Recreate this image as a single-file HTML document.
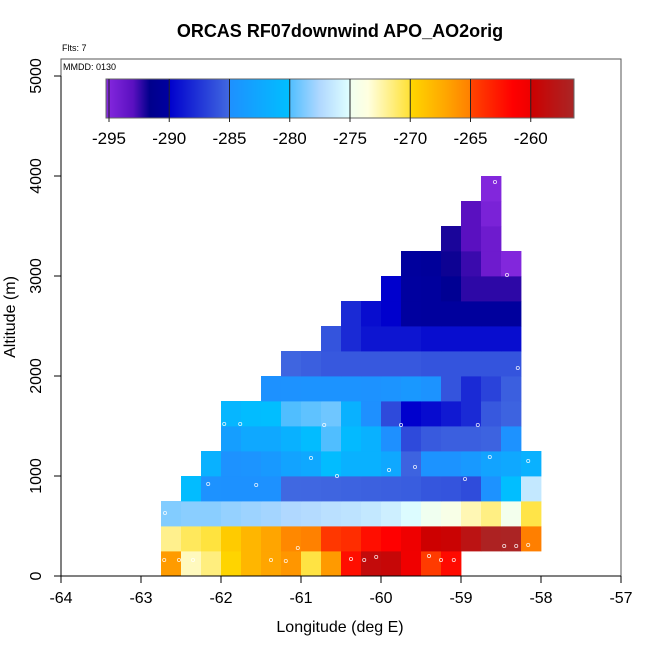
<!DOCTYPE html>
<html><head><meta charset="utf-8"><style>
body{margin:0;background:#fff;}
svg{display:block;font-family:"Liberation Sans",sans-serif;}
</style></head><body>
<svg id="chart" width="650" height="650" viewBox="0 0 650 650">
<text x="340" y="37" text-anchor="middle" font-size="18" font-weight="bold">ORCAS RF07downwind APO_AO2orig</text>
<text x="62" y="51" font-size="9">Flts: 7</text>
<g id="cells"></g>
<g id="dots"></g>
<rect x="61" y="59" width="560" height="517" fill="none" stroke="#555" stroke-width="1"/>
<text x="63" y="70" font-size="9">MMDD: 0130</text>
<g id="cbar"></g>
<g id="axes"></g>
<text x="340" y="632" text-anchor="middle" font-size="16">Longitude (deg E)</text>
<text transform="translate(15,317) rotate(-90)" text-anchor="middle" font-size="16">Altitude (m)</text>
</svg>
<script>
const rowStart = [0,0,0,1,2,3,3,5,6,8,9,11,12,14,15,16];
const row0 = [-266.5,-272.8,-271.5,-269.8,-268,-267,-266.2,-270.3,-266.4,-262.2,-259,-259.3,-260.2,-264.5,-262];
const row1 = [-271.8,-270.8,-270.2,-269.3,-268,-267,-265.5,-265.1,-264.3,-263.8,-262.2,-261.5,-260.1,-260,-259.7,-258.2,-256.8,-256.6,-265.02];
const row2 = [-278.7,-278.5,-278.5,-278.2,-278,-277.8,-277.5,-277.3,-277,-276.8,-276.5,-276,-275.2,-275,-274.2,-272.6,-271.6,-274.7,-270.4];
const row3 = [-280.3,-284.8,-284.9,-284.9,-284.9,-285.05,-285.1,-285.2,-285.3,-285.4,-285.5,-285.6,-285.9,-286,-286.4,-284.8,-280.1,-276.5];
const row4 = [-281.5,-284.8,-284.6,-284,-283,-282.5,-280.3,-281.5,-281.5,-282.5,-285.3,-284.7,-284.7,-284,-283,-282.5,-281.5];
const row5 = [-283.5,-282.5,-282.5,-281.5,-280.3,-280,-280.5,-281.5,-285,-286.5,-285.7,-285.5,-285.5,-285.3,-284.8];
const row6 = [-281,-280.3,-280.1,-280,-279.6,-279.2,-281.5,-285,-286.5,-290,-289.5,-288.8,-288,-285.8,-285.3];
const row7 = [-284.9,-284.8,-284.7,-284.7,-284.7,-284.8,-284.6,-284.2,-284.7,-286,-288,-286.8,-285.5];
const row8 = [-285.2,-285.5,-285.8,-285.8,-285.8,-285.8,-285.8,-286,-286,-286,-286,-286];
const row9 = [-286,-288,-289,-289,-289,-289.4,-289.4,-289.4,-289.4,-289.4];
const row10 = [-288,-289.4,-290,-290.05,-290.2,-290.2,-290.2,-290.2,-290.2];
const row11 = [-290,-290.05,-290.2,-291,-292.3,-292.3,-292.3];
const row12 = [-290.2,-290.5,-291.8,-292.5,-294,-295];
const row13 = [-292,-293,-294];
const row14 = [-293,-294.6];
const row15 = [-295];
const rowValues = [row0,row1,row2,row3,row4,row5,row6,row7,row8,row9,row10,row11,row12,row13,row14,row15];
const ptLon = [-60.875,-60.55,-59.9,-59.575,-58.64,-58.16,-62.16,-61.56,-58.95,-62.7,-61.04,-58.46,-58.31,-58.16,-62.71,-62.525,-62.35,-61.375,-61.19,-60.375,-60.21,-60.06,-59.4,-59.25,-59.09,-58.29,-61.96,-61.76,-60.71,-59.75,-58.79,-58.575,-58.425];
const ptAlt = [1180,1000,1060,1090,1190,1150,920,910,970,630,280,300,300,310,160,160,160,160,150,170,160,190,200,160,160,2080,1520,1520,1510,1510,1510,3940,3010];
const xTicks = [-64,-63,-62,-61,-60,-59,-58,-57];
const yTicks = [0,1000,2000,3000,4000,5000];
const cbTicks = [-295,-290,-285,-280,-275,-270,-265,-260];

const NS='http://www.w3.org/2000/svg';
const lon0=-62.75, dLon=0.25, dAlt=250;
function xs(l){return 61+(l+64)*80;}
function ys(a){return 576-a*0.1;}
const stops=[[-295.4,[138,43,226]],[-293,[90,16,192]],[-291.6,[0,0,139]],[-290.01,[0,0,160]],[-290,[0,0,205]],[-285.01,[65,105,225]],[-285,[30,144,255]],[-280.01,[0,191,255]],[-280,[80,190,255]],[-277.5,[176,216,255]],[-275.01,[224,255,255]],[-275,[240,255,240]],[-273.5,[255,255,224]],[-270.01,[255,225,53]],[-270,[255,215,0]],[-267,[255,165,0]],[-265.01,[255,127,0]],[-265,[255,69,0]],[-261.5,[255,0,0]],[-260.01,[238,0,0]],[-260,[205,0,0]],[-256,[165,42,42]]];
function col(v){
  if(v<=stops[0][0])return 'rgb('+stops[0][1]+')';
  for(let i=1;i<stops.length;i++){
    if(v<=stops[i][0]){const a=stops[i-1],b=stops[i];const t=(v-a[0])/(b[0]-a[0]);
      const c=a[1].map((x,k)=>Math.round(x+(b[1][k]-x)*t));return 'rgb('+c.join(',')+')';}
  }
  return 'rgb('+stops[stops.length-1][1]+')';
}
function mk(tag,attrs,parent){const e=document.createElementNS(NS,tag);for(const k in attrs)e.setAttribute(k,attrs[k]);parent.appendChild(e);return e;}
const gC=document.getElementById('cells');
rowValues.forEach((vals,r)=>{
  vals.forEach((v,j)=>{
    const c=rowStart[r]+j;
    const l=lon0+c*dLon;
    const x1=xs(l),x2=xs(l+dLon),y1=ys((r+1)*dAlt),y2=ys(r*dAlt);
    const e=mk('rect',{x:x1,y:y1,width:x2-x1+0.4,height:y2-y1+0.4,fill:col(v)},gC);
    
    
  });
});
const gD=document.getElementById('dots');
ptLon.forEach((l,i)=>{
  const e=mk('circle',{cx:xs(l),cy:ys(ptAlt[i]),r:1.6,fill:'none',stroke:'#fff','stroke-width':0.8,opacity:0.85},gD);
  
  
});
const gB=document.getElementById('cbar');
const cbL=106,cbR=574,cbT=79,cbB=118;
function cx(v){return 109+(v+295)*12.05;}
for(let x=cbL;x<cbR;x+=1){
  const v=(x+0.5-109)/12.05-295;
  const e=mk('rect',{x:x,y:cbT,width:1.2,height:cbB-cbT,fill:col(v)},gB);
  
  
}
const fr=mk('rect',{x:cbL,y:cbT,width:cbR-cbL,height:cbB-cbT,fill:'none',stroke:'#666','stroke-width':1},gB);


cbTicks.forEach(t=>{
  const x=cx(t);
  mk('line',{x1:x,x2:x,y1:cbT,y2:cbB+4,stroke:'#222','stroke-width':1},gB);
  const e=mk('text',{x:x,y:144,'text-anchor':'middle','font-size':17},gB);
  e.textContent=t;
  
  
});
const gA=document.getElementById('axes');
mk('line',{x1:xs(-64),x2:xs(-57),y1:576,y2:576,stroke:'#000'},gA);
xTicks.forEach(t=>{
  const x=xs(t);
  mk('line',{x1:x,x2:x,y1:576,y2:583,stroke:'#000'},gA);
  const e=mk('text',{x:x,y:603,'text-anchor':'middle','font-size':16},gA);
  e.textContent=t;
  
  
});
mk('line',{x1:61,x2:61,y1:ys(0),y2:ys(5000),stroke:'#000'},gA);
yTicks.forEach(t=>{
  const y=ys(t);
  mk('line',{x1:54,x2:61,y1:y,y2:y,stroke:'#000'},gA);
  const e=mk('text',{transform:'translate(41,'+y+') rotate(-90)','text-anchor':'middle','font-size':16},gA);
  e.textContent=t;
  
  
});
</script>
</body></html>
